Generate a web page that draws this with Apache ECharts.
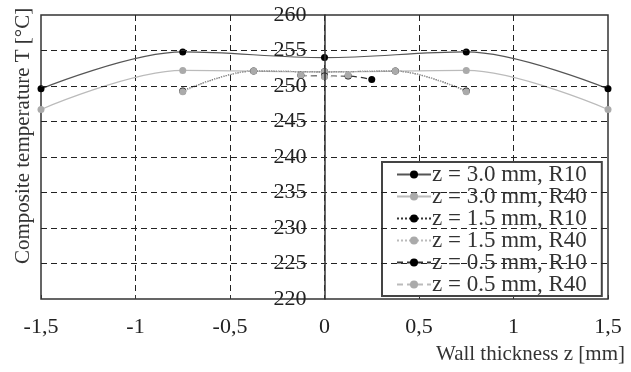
<!DOCTYPE html>
<html>
<head>
<meta charset="utf-8">
<script src="https://cdn.jsdelivr.net/npm/echarts@6/dist/echarts.min.js"></script>
<style>
  html, body { margin: 0; padding: 0; background: #fff; }
  #chart { width: 631px; height: 372px; }
</style>
</head>
<body>
<div id="chart"></div>
<script>
// wall position z [mm] and composite temperature T [°C]
var zThick = [-1.5, -0.75, 0, 0.75, 1.5];
var t30R10 = [249.6, 254.8, 254.0, 254.8, 249.6];
var t30R40 = [246.7, 252.2, 252.0, 252.2, 246.7];

var zMid = [-0.75, -0.375, 0, 0.375, 0.75];
var t15R10 = [249.3, 252.1, 252.0, 252.1, 249.3];
var t15R40 = [249.2, 252.1, 252.0, 252.1, 249.2];

var zThin = [-0.125, 0, 0.125, 0.25];
var t05R10 = [251.5, 251.4, 251.4, 250.9];
var t05R40 = [251.5, 251.3, 251.5, null];

var seriesNames = [
  "z = 3.0 mm, R10", "z = 3.0 mm, R40",
  "z = 1.5 mm, R10", "z = 1.5 mm, R40",
  "z = 0.5 mm, R10", "z = 0.5 mm, R40"
];
var xTicks = [-1.5, -1, -0.5, 0, 0.5, 1, 1.5];
var yTicks = [220, 225, 230, 235, 240, 245, 250, 255, 260];

var font = "Liberation Serif";
var gridDash = { color: "#222", type: [6, 4], width: 1 };
var plotLeft = 41, plotRight = 23, plotW = 631 - plotLeft - plotRight;

function pairs(xs, ys) {
  return xs.map(function (x, i) { return [x, ys[i]]; }).filter(function (p) { return p[1] != null; });
}

function makeSeries(name, xs, ys, lineColor, dotColor, lineType) {
  return {
    name: name,
    type: "line",
    smooth: 0.35,
    symbol: "circle",
    symbolSize: 7,
    itemStyle: { color: dotColor },
    lineStyle: { color: lineColor, width: 1.2, type: lineType },
    data: pairs(xs, ys),
    z: 3
  };
}

var chart = echarts.init(document.getElementById("chart"));
chart.setOption({
  animation: false,
  textStyle: { fontFamily: font },
  grid: {
    left: plotLeft, right: plotRight, top: 15, bottom: 73,
    outerBoundsMode: "none",
    show: true, borderColor: "#333", borderWidth: 1.5
  },
  legend: {
    orient: "vertical",
    left: 382, top: 162,
    padding: [1, 15, 0, 14],
    itemGap: -1,
    itemWidth: 34,
    itemHeight: 10,
    backgroundColor: "#fff",
    borderColor: "#444",
    borderWidth: 2,
    textStyle: { fontFamily: font, fontSize: 23, color: "#333", lineHeight: 21, padding: [0, 0, 0, -4] },
    data: seriesNames
  },
  xAxis: {
    type: "value",
    min: -1.5, max: 1.5, interval: 0.5,
    axisLine: { show: false },
    axisTick: { show: true, inside: true, length: 4, lineStyle: { color: "#333" } },
    axisLabel: {
      fontFamily: font, fontSize: 22, color: "#222", margin: 17,
      formatter: function (v) { return xTicks.indexOf(v) >= 0 ? String(v).replace(".", ",") : ""; }
    },
    splitLine: { show: true, showMinLine: false, showMaxLine: false, lineStyle: gridDash }
  },
  yAxis: {
    type: "value",
    min: 220, max: 260, interval: 5,
    offset: -plotW / 2,
    axisLine: { show: true, onZero: false, lineStyle: { color: "#333", width: 1.5 } },
    axisTick: { show: false },
    axisLabel: {
      fontFamily: font, fontSize: 22, color: "#222", margin: 18,
      formatter: function (v) { return yTicks.indexOf(v) >= 0 ? String(v) : ""; }
    },
    splitLine: { show: true, showMinLine: false, showMaxLine: false, lineStyle: gridDash },
    z: 4
  },
  graphic: [
    {
      type: "text", x: 13, y: 264, rotation: Math.PI / 2,
      style: { text: "Composite temperature T [°C]", fontFamily: font, fontSize: 21, fill: "#333",
        textAlign: "left", textVerticalAlign: "top" }
    },
    {
      type: "text", right: 6, top: 344,
      style: { text: "Wall thickness z [mm]", fontFamily: font, fontSize: 21, fill: "#333" }
    }
  ],
  series: [
    makeSeries(seriesNames[0], zThick, t30R10, "#555", "#000", "solid"),
    makeSeries(seriesNames[1], zThick, t30R40, "#bbb", "#aaa", "solid"),
    makeSeries(seriesNames[2], zMid, t15R10, "#333", "#000", "dotted"),
    makeSeries(seriesNames[3], zMid, t15R40, "#bbb", "#aaa", "dotted"),
    makeSeries(seriesNames[4], zThin, t05R10, "#333", "#000", [6, 4]),
    makeSeries(seriesNames[5], zThin, t05R40, "#bbb", "#aaa", [6, 4])
  ]
});
</script>
</body>
</html>
